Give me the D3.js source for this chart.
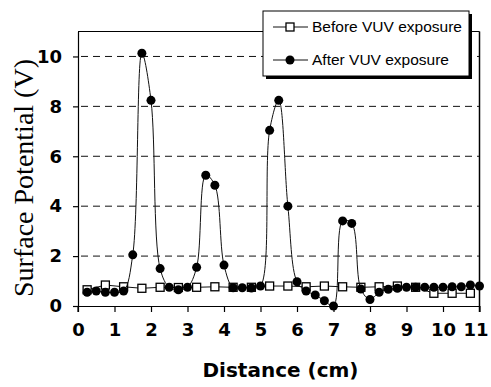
<!DOCTYPE html>
<html>
<head>
<meta charset="utf-8">
<script src="https://cdn.jsdelivr.net/npm/d3@7"></script>
<style>
  body { margin: 0; background: #fff; }
  svg { display: block; }
</style>
</head>
<body>
<div id="chart"></div>
<script>
// series values
var beforeX = [0.25, 0.75, 1.25, 1.75, 2.25, 2.75, 3.25, 3.75, 4.25, 4.75, 5.25, 5.75, 6.25, 6.75, 7.25, 7.75, 8.25, 8.75, 9.25, 9.75, 10.25, 10.75];
var beforeY = [0.65, 0.84, 0.77, 0.71, 0.75, 0.74, 0.75, 0.77, 0.75, 0.75, 0.8, 0.8, 0.77, 0.8, 0.77, 0.75, 0.77, 0.8, 0.75, 0.51, 0.51, 0.51];

var afterX = [0.25, 0.5, 0.75, 1, 1.25, 1.5, 1.75, 2, 2.25, 2.5, 2.75, 3, 3.25, 3.5, 3.75, 4, 4.25, 4.5, 4.75, 5, 5.25, 5.5,
              5.75, 6, 6.25, 6.5, 6.75, 7, 7.25, 7.5, 7.75, 8, 8.25, 8.5, 8.75, 9, 9.25, 9.5, 9.75, 10, 10.25, 10.5, 10.75, 11];
var afterY = [0.55, 0.6, 0.55, 0.55, 0.6, 2.05, 10.13, 8.24, 1.5, 0.75, 0.65, 0.75, 1.55, 5.24, 4.84, 1.64, 0.73, 0.73, 0.72, 0.8, 7.04, 8.24,
              4.0, 0.97, 0.6, 0.44, 0.21, 0.0, 3.41, 3.31, 0.68, 0.26, 0.55, 0.67, 0.71, 0.75, 0.75, 0.75, 0.75, 0.75, 0.77, 0.77, 0.84, 0.8];

var seriesNames = ["Before VUV exposure", "After VUV exposure"];
var xTicks = [0, 1, 2, 3, 4, 5, 6, 7, 8, 9, 10, 11];
var yTicks = [0, 2, 4, 6, 8, 10];
var xTitle = "Distance (cm)";
var yTitle = "Surface Potential (V)";

var W = 491, H = 387;
var svg = d3.select("#chart").append("svg")
  .attr("width", W)
  .attr("height", H);

var x = d3.scaleLinear().domain([0, 11]).range([78, 479.5]);
var y = d3.scaleLinear().domain([0, 11]).range([306, 31.5]);

var boldFont = "'DejaVu Sans', sans-serif";

// dashed grid
svg.append("g")
  .selectAll("line")
  .data(yTicks.filter(function(d){ return d > 0; }))
  .enter().append("line")
  .attr("x1", x(0) + 3).attr("x2", x(11))
  .attr("y1", function(d){ return y(d); })
  .attr("y2", function(d){ return y(d); })
  .attr("stroke", "#111")
  .attr("stroke-width", 1)
  .attr("stroke-dasharray", "7,5");

// frame: top + right
svg.append("line")
  .attr("x1", x(0)).attr("x2", x(11))
  .attr("y1", y(11)).attr("y2", y(11))
  .attr("stroke", "#000").attr("stroke-width", 1.2);
svg.append("line")
  .attr("x1", x(11)).attr("x2", x(11))
  .attr("y1", y(11)).attr("y2", y(0) + 6)
  .attr("stroke", "#000").attr("stroke-width", 1.5);

// axes
var xAxis = d3.axisBottom(x).tickValues(xTicks).tickSize(6).tickSizeOuter(0).tickFormat(d3.format("d"));
var gx = svg.append("g").attr("transform", "translate(0," + y(0) + ")").call(xAxis);
gx.select(".domain").attr("stroke", "#000").attr("stroke-width", 1.2);
gx.selectAll(".tick line").attr("stroke", "#000").attr("stroke-width", 1.2);
gx.selectAll(".tick text")
  .attr("y", 30)
  .attr("dy", 0)
  .attr("dx", function(d){ return d === 11 ? -4 : 0; })
  .style("font-family", boldFont)
  .style("font-weight", "bold")
  .style("font-size", "18px")
  .attr("fill", "#000");

var yAxis = d3.axisLeft(y).tickValues(yTicks).tickSize(5).tickSizeOuter(0).tickFormat(d3.format("d"));
var gy = svg.append("g").attr("transform", "translate(" + x(0) + ",0)").call(yAxis);
gy.select(".domain").attr("stroke", "#000").attr("stroke-width", 1.2);
gy.selectAll(".tick line").attr("stroke", "#000").attr("stroke-width", 1.2);
gy.selectAll(".tick text")
  .attr("x", -16)
  .style("font-family", boldFont)
  .style("font-weight", "bold")
  .style("font-size", "18px")
  .attr("fill", "#000");
// y axis runs slightly below zero like the x ticks
svg.append("line")
  .attr("x1", x(0)).attr("x2", x(0))
  .attr("y1", y(0)).attr("y2", y(0) + 6)
  .attr("stroke", "#000").attr("stroke-width", 1.2);

// titles
svg.append("text")
  .attr("x", 280.5).attr("y", 377)
  .attr("text-anchor", "middle")
  .style("font-family", boldFont)
  .style("font-weight", "bold")
  .style("font-size", "20px")
  .text(xTitle);

svg.append("text")
  .attr("transform", "translate(33,178) rotate(-90)")
  .attr("text-anchor", "middle")
  .style("font-family", "'Liberation Serif', 'Times New Roman', serif")
  .style("font-size", "28px")
  .text(yTitle);

// series data as point objects
var before = beforeX.map(function(d, i){ return {x: d, y: beforeY[i]}; });
var after = afterX.map(function(d, i){ return {x: d, y: afterY[i]}; });

var straight = d3.line().x(function(d){ return x(d.x); }).y(function(d){ return y(d.y); });
var smooth = d3.line().x(function(d){ return x(d.x); }).y(function(d){ return y(d.y); })
  .curve(d3.curveCatmullRom.alpha(0.5));

svg.append("path")
  .attr("d", straight(before))
  .attr("fill", "none").attr("stroke", "#111").attr("stroke-width", 1);

svg.append("g").selectAll("rect")
  .data(before).enter().append("rect")
  .attr("x", function(d){ return x(d.x) - 4; })
  .attr("y", function(d){ return y(d.y) - 4; })
  .attr("width", 8).attr("height", 8)
  .attr("fill", "#fff").attr("stroke", "#000").attr("stroke-width", 1.3);

svg.append("path")
  .attr("d", smooth(after))
  .attr("fill", "none").attr("stroke", "#111").attr("stroke-width", 1);

svg.append("g").selectAll("circle")
  .data(after).enter().append("circle")
  .attr("cx", function(d){ return x(d.x); })
  .attr("cy", function(d){ return y(d.y); })
  .attr("r", 4.5)
  .attr("fill", "#000");

// legend with drop shadow
var lg = svg.append("g");
lg.append("rect")
  .attr("x", 266).attr("y", 14).attr("width", 206).attr("height", 65)
  .attr("fill", "#000");
lg.append("rect")
  .attr("x", 263).attr("y", 11).attr("width", 206).attr("height", 65)
  .attr("fill", "#fff").attr("stroke", "#000").attr("stroke-width", 1);

seriesNames.forEach(function(name, i){
  var ly = 27 + i * 33;
  lg.append("line")
    .attr("x1", 273).attr("x2", 308)
    .attr("y1", ly).attr("y2", ly)
    .attr("stroke", "#111").attr("stroke-width", 1);
  if (i === 0) {
    lg.append("rect")
      .attr("x", 286).attr("y", ly - 4).attr("width", 8).attr("height", 8)
      .attr("fill", "#fff").attr("stroke", "#000").attr("stroke-width", 1.3);
  } else {
    lg.append("circle").attr("cx", 290).attr("cy", ly).attr("r", 4.5).attr("fill", "#000");
  }
  lg.append("text")
    .attr("x", 312).attr("y", ly + 5)
    .style("font-family", "'Liberation Sans', Arial, sans-serif")
    .style("font-size", "15.5px")
    .text(name);
});
</script>
</body>
</html>
